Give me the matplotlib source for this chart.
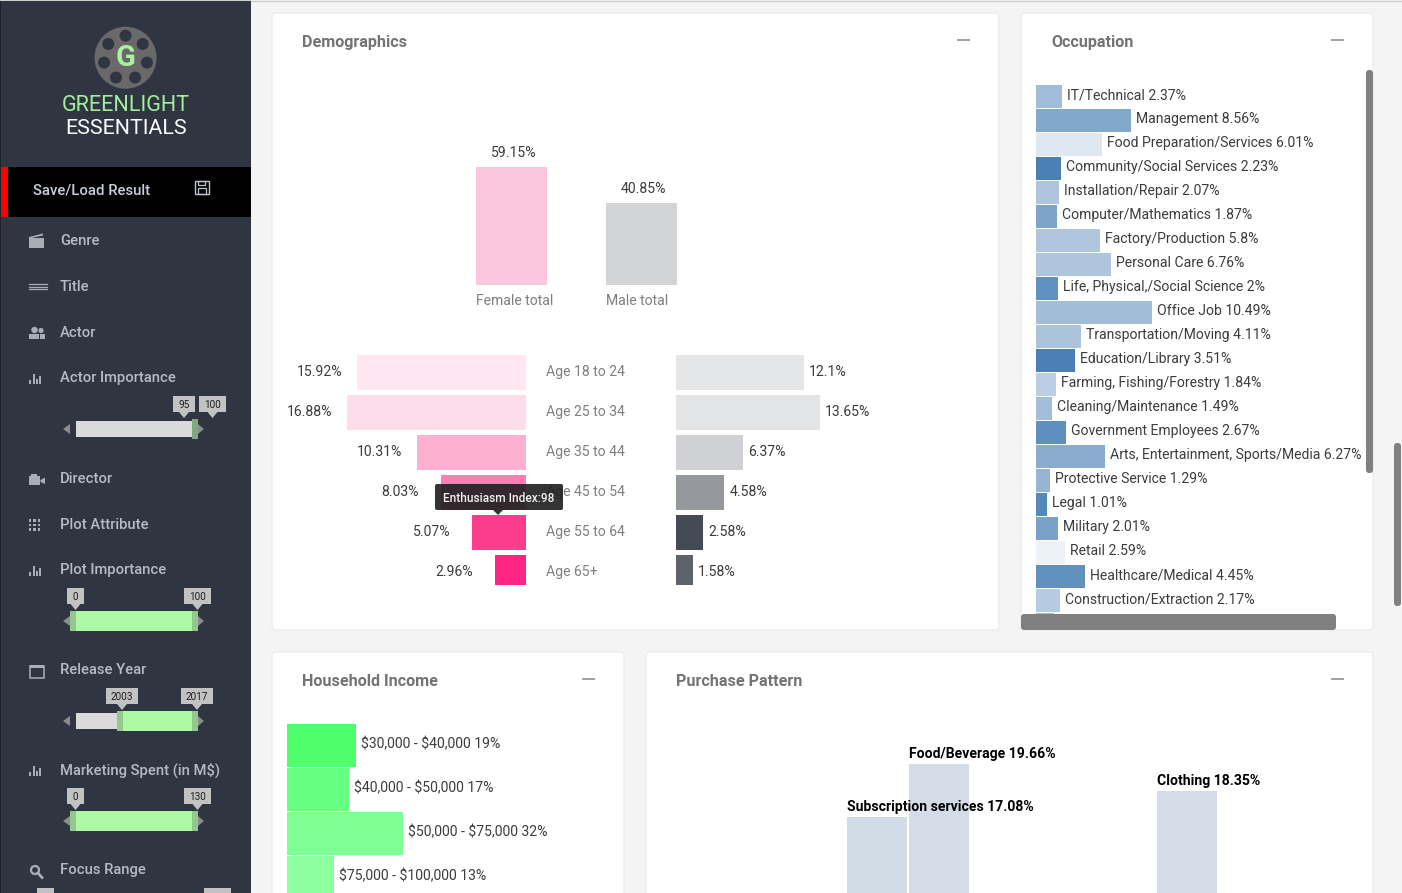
import numpy as np
import matplotlib
matplotlib.use("Agg")
import matplotlib.pyplot as plt
from matplotlib.patches import Rectangle, FancyBboxPatch, Circle, Polygon

plt.rcParams['font.family'] = ['Roboto', 'DejaVu Sans']

W, H = 1402, 893
PX = 0.72  # one pixel in points at dpi 100

# Demographics
total_labels = ["Female total", "Male total"]
total_values = [59.15, 40.85]
total_colors = ["#FCC6DE", "#D3D4D6"]
age_labels = ["Age 18 to 24", "Age 25 to 34", "Age 35 to 44", "Age 45 to 54", "Age 55 to 64", "Age 65+"]
female_values = [15.92, 16.88, 10.31, 8.03, 5.07, 2.96]
male_values = [12.1, 13.65, 6.37, 4.58, 2.58, 1.58]
female_colors = ["#FFE6F0", "#FEDDEB", "#FEB0D3", "#FE7DB5", "#FE3C8E", "#FE2585"]
male_colors = ["#E5E6E8", "#E3E4E6", "#CFD1D4", "#95989D", "#454B55", "#5D626B"]

# Occupation
occ_labels = ["IT/Technical 2.37%", "Management 8.56%", "Food Preparation/Services 6.01%",
              "Community/Social Services 2.23%", "Installation/Repair 2.07%",
              "Computer/Mathematics 1.87%", "Factory/Production 5.8%", "Personal Care 6.76%",
              "Life, Physical,/Social Science 2%", "Office Job 10.49%",
              "Transportation/Moving 4.11%", "Education/Library 3.51%",
              "Farming, Fishing/Forestry 1.84%", "Cleaning/Maintenance 1.49%",
              "Government Employees 2.67%", "Arts, Entertainment, Sports/Media 6.27%",
              "Protective Service 1.29%", "Legal 1.01%", "Military 2.01%", "Retail 2.59%",
              "Healthcare/Medical 4.45%", "Construction/Extraction 2.17%", ""]
occ_values = [2.37, 8.56, 6.01, 2.23, 2.07, 1.87, 5.8, 6.76, 2.0, 10.49, 4.11, 3.51,
              1.84, 1.49, 2.67, 6.27, 1.29, 1.01, 2.01, 2.59, 4.45, 2.17, 1.6]
occ_colors = ["#A0BCD8", "#82A8CC", "#DFE8F1", "#4B80B4", "#AFC5DD", "#7FA4CA", "#B0C6DE",
              "#AEC5DD", "#6090BF", "#A1BDD8", "#ABC4DC", "#4A80B5", "#BACFE3", "#A3BEDA",
              "#5F8FBF", "#89ABCE", "#97B5D3", "#5587BB", "#7BA1C8", "#EDF2F8", "#6190BF",
              "#B4CBE1", "#9FBAD6"]

# Household income
income_labels = [r"\$30,000 - \$40,000 19%", r"\$40,000 - \$50,000 17%",
                 r"\$50,000 - \$75,000 32%", r"\$75,000 - \$100,000 13%"]
income_values = [19, 17, 32, 13]
income_colors = ["#4DFF6B", "#66FF7F", "#80FF95", "#8CFF9F"]

# Purchase pattern (slots 2-4 hold bars too short to show above the fold)
purchase_labels = ["Subscription services 17.08%", "Food/Beverage 19.66%", "Clothing 18.35%"]
purchase_values = [17.08, 19.66, 18.35]
purchase_slots = [0, 1, 5]
purchase_colors = ["#D2DCE6", "#D3DCE7", "#D4DCE7"]

# Sidebar
menu_labels = ["Genre", "Title", "Actor", "Actor Importance", "Director", "Plot Attribute",
               "Plot Importance", "Release Year", r"Marketing Spent (in M\$)", "Focus Range"]
menu_y = [240, 286, 332, 377, 478, 524, 569, 669, 769, 869]

fig = plt.figure(figsize=(W / 100, H / 100), dpi=100, facecolor="#F4F4F4")


def ax_px(x0, y0, x1, y1, zorder=1):
    ax = fig.add_axes([x0 / W, 1 - y1 / H, (x1 - x0) / W, (y1 - y0) / H], zorder=zorder)
    ax.axis("off")
    return ax


def label(ax, x, y, s, dx=0, dy=0, color="#3C3C3C", size=10.1, ha="left", weight="normal"):
    # offsets are in pixels, y pointing down
    ax.annotate(s, (x, y), xytext=(dx * PX, -dy * PX), textcoords="offset points", ha=ha, va="center",
                color=color, fontsize=size, fontweight=weight, annotation_clip=False, clip_on=False)


# page chrome
bg = ax_px(0, 0, W, H, zorder=0)
bg.set_xlim(0, W)
bg.set_ylim(H, 0)


def card(x0, y0, x1, y1, title, minus_x):
    bg.add_patch(FancyBboxPatch((x0 + 3, y0 + 3), x1 - x0 - 6, y1 - y0 - 6, boxstyle="round,pad=3,rounding_size=4",
                                fc="white", ec="#ECECEC", lw=1))
    bg.text(x0 + 30, y0 + 29.5, title, color="#737373", fontsize=11.6, fontweight="bold", va="center")
    bg.plot([minus_x, minus_x + 11], [y0 + 27, y0 + 27], color="#A0A0A0", lw=1.4)


card(272, 13, 999, 630, "Demographics", 958)
card(1021, 13, 1373, 630, "Occupation", 1332)
card(272, 652, 624, 910, "Household Income", 583)
card(646, 652, 1373, 910, "Purchase Pattern", 1332)
bg.plot([251, W], [0.5, 0.5], color="#CFCFCF", lw=1)

# demographics totals
ax = ax_px(476, 100, 677, 285)
ax.set_xlim(-0.273, 1.273)
ax.set_ylim(0, 92.5)
ax.bar(range(2), total_values, width=0.546, color=total_colors)
for i, v in enumerate(total_values):
    label(ax, i, v, f"{v}%", dy=-14, dx=2, ha="center")
    label(ax, i, 0, total_labels[i], dx=-35.5, dy=16, color="#7E7E7E")

# age funnel
ax = ax_px(287, 355, 526, 585)
ax.set_xlim(239 / 10.6, 0)
ax.set_ylim(5.3125, -0.4375)
ax.barh(range(6), female_values, height=0.875, color=female_colors)
for i, v in enumerate(female_values):
    # the label box has a fixed width, so shorter numbers end further from the bar
    label(ax, v, i, f"{v}%", dx=-15 if v >= 10 else -22, dy=-0.5, ha="right")

ax = ax_px(676, 355, 900, 585)
ax.set_xlim(0, 224 / 10.55)
ax.set_ylim(5.3125, -0.4375)
ax.barh(range(6), male_values, height=0.875, color=male_colors)
for i, v in enumerate(male_values):
    label(ax, v, i, f"{v}%", dx=5, dy=-0.5)
    label(ax, 0, i, age_labels[i], dx=-130.5, dy=-0.5, color="#7E7E7E")

# occupation
ax = ax_px(1036, 84.5, 1366, 630)
ax.set_xlim(0, 330 / 11.06)
ax.set_ylim((630 - 84.5) / 24 - 0.5, -0.5)
ax.barh(range(len(occ_values)), occ_values, height=23 / 24, color=occ_colors)
for i, v in enumerate(occ_values):
    if occ_labels[i]:
        label(ax, v, i, occ_labels[i], dx=5, dy=-1.5)

# household income
ax = ax_px(287, 723.5, 620, 893)
ax.set_xlim(0, 333 / 3.63)
ax.set_ylim((893 - 723.5) / 44 - 0.5, -0.5)
ax.barh(range(4), income_values, height=43 / 44, color=income_colors)
for i, v in enumerate(income_values):
    label(ax, v, i, income_labels[i], dx=5, dy=-1.5)

# purchase pattern
ax = ax_px(847, 700, 1217, 893)
ax.set_xlim(-30 / 62, 340 / 62)
ax.set_ylim(19.66 - 129 / 20.54, 19.66 + 64 / 20.54)
ax.bar(purchase_slots, purchase_values, width=60 / 62, color=purchase_colors)
for s, v, t in zip(purchase_slots, purchase_values, purchase_labels):
    label(ax, s, v, t, dx=-30, dy=-10, color="black", weight="bold")

# sidebar
side = ax_px(0, 0, 251, H, zorder=3)
side.set_xlim(0, 251)
side.set_ylim(H, 0)
side.add_patch(Rectangle((0, 0), 251, H, fc="#2F3541", ec="none"))
side.add_patch(Rectangle((0, 0), 1, H, fc="#1E2228", ec="none"))
side.add_patch(Rectangle((0, 0), 251, 1, fc="#CFCFCF", ec="none"))
side.add_patch(Rectangle((1, 167), 250, 50, fc="black", ec="none"))
side.add_patch(Rectangle((1, 167), 7, 50, fc="#FF0000", ec="none"))

# logo
side.add_patch(Circle((125.5, 57.7), 31, fc="#696969", ec="none"))
for a in np.linspace(0, 2 * np.pi, 7, endpoint=False) - np.pi / 2:
    side.add_patch(Circle((125.5 + 22 * np.cos(a), 57.7 + 22 * np.sin(a)), 6, fc="#2F3541", ec="none"))
side.text(125.5, 57.5, "G", color="#A9F0A0", fontsize=21, fontweight="bold", ha="center", va="center")
side.text(125.5, 105.5, "GREENLIGHT", color="#A5EE9C", fontsize=15.6, ha="center", va="center")
side.text(126, 128.5, "ESSENTIALS", color="white", fontsize=15.4, ha="center", va="center")

side.text(33, 190.5, "Save/Load Result", color="#C8CED8", fontsize=10.7, fontweight="medium", va="center")
side.add_patch(Rectangle((195.5, 181), 14, 12.5, fc="none", ec="#BFC4CC", lw=1))
side.add_patch(Rectangle((198.5, 181), 7, 4, fc="none", ec="#BFC4CC", lw=0.9))
side.add_patch(Rectangle((198.5, 188), 8, 5.5, fc="none", ec="#BFC4CC", lw=0.9))

for t, y in zip(menu_labels, menu_y):
    side.text(60, y + 1, t, color="#B6BBC3", fontsize=10.6, fontweight="medium", va="center")

ICON = "#A9AEB6"


def icon_bars(y):
    for i, h in enumerate([4, 10, 5, 8]):
        side.add_patch(Rectangle((29.5 + i * 3.2, y + 6 - h), 2, h, fc=ICON, ec="none"))


# genre
side.add_patch(Rectangle((29, 238), 15, 10, fc=ICON, ec="none"))
side.add_patch(Polygon([(29, 237), (43, 233.5), (43, 235.5), (29, 238.5)], fc=ICON, ec="none"))
# title
for y in [284, 286.7, 289.4]:
    side.plot([29, 47], [y, y], color=ICON, lw=0.9)
# actor
for cx, cy, r in [(41, 330.5, 2.6), (34.5, 330, 3.2)]:
    side.add_patch(Circle((cx, cy), r, fc=ICON, ec="none"))
side.add_patch(Rectangle((29, 334), 10, 5, fc=ICON, ec="none"))
side.add_patch(Rectangle((40, 334), 5, 5, fc=ICON, ec="none"))
# bar icons
for y in [378, 570, 770]:
    icon_bars(y)
# director
side.add_patch(Rectangle((29, 476), 11.5, 9, fc=ICON, ec="none"))
side.add_patch(Polygon([(40.5, 480), (45, 477.5), (45, 484), (40.5, 482)], fc=ICON, ec="none"))
side.add_patch(Rectangle((31, 473.5), 6, 2, fc=ICON, ec="none"))
# plot attribute dots
for xx in [30, 34.5, 39]:
    for yy in [520.5, 525, 529.5]:
        side.add_patch(Rectangle((xx - 1.2, yy - 1.2), 2.4, 2.4, fc=ICON, ec="none"))
# calendar
side.add_patch(Rectangle((30, 666), 14, 12, fc="none", ec=ICON, lw=1.1))
side.add_patch(Rectangle((30, 665), 14, 3, fc=ICON, ec="none"))
# search
side.add_patch(Circle((35, 870), 4, fc="none", ec=ICON, lw=1.6))
side.plot([38, 42], [873, 877.5], color=ICON, lw=2)

GREEN = "#ADF8A5"
HANDLE = "#94C78E"
TRACK = "#DADADA"
TAG = "#C2C2C2"


def tag(x0, x1, y, s):
    side.add_patch(Rectangle((x0, y), x1 - x0, 16, fc=TAG, ec="none"))
    cx = (x0 + x1) / 2
    side.add_patch(Polygon([(cx - 5, y + 16), (cx + 5, y + 16), (cx, y + 22)], fc=TAG, ec="none"))
    side.text(cx, y + 9, s, color="#1E1E1E", fontsize=7.2, ha="center", va="center")


def slider(y, left, right):
    # y is the centre of the track, left/right the handle edges
    side.add_patch(Rectangle((76, y - 8), 118, 16, fc=TRACK, ec="none"))
    side.add_patch(Polygon([(70, y - 5), (70, y + 5), (63, y)], fc="#8C8C8C", ec="none"))
    side.add_patch(Polygon([(198, y - 5), (198, y + 5), (204, y)], fc="#8C8C8C", ec="none"))
    side.add_patch(Rectangle((left, y - 10), 198 - left, 20, fc=GREEN, ec="none"))
    side.add_patch(Rectangle((left, y - 10), 6, 20, fc=HANDLE, ec="none"))
    side.add_patch(Rectangle((192, y - 10), 6, 20, fc=HANDLE, ec="none"))


# actor importance: empty range at the right end
side.add_patch(Rectangle((76, 421), 118, 16, fc=TRACK, ec="none"))
side.add_patch(Polygon([(70, 424), (70, 434), (63, 429)], fc="#8C8C8C", ec="none"))
side.add_patch(Polygon([(198, 424), (198, 434), (204, 429)], fc="#8C8C8C", ec="none"))
side.add_patch(Rectangle((192, 419), 6, 20, fc="#7FA97F", ec="none"))
tag(173, 195, 396, "95")
tag(199, 226, 396, "100")

slider(621, 70, 198)
tag(67, 84, 588, "0")
tag(184, 211, 588, "100")
slider(721, 117, 198)
tag(106, 138, 688, "2003")
tag(181, 213, 688, "2017")
slider(821, 70, 198)
tag(67, 84, 788, "0")
tag(184, 211, 788, "130")
side.add_patch(Rectangle((37, 888), 17, 5, fc=TAG, ec="none"))
side.add_patch(Rectangle((204, 888), 27, 5, fc=TAG, ec="none"))

# overlay: tooltip and scrollbars
top = ax_px(0, 0, W, H, zorder=5)
top.set_xlim(0, W)
top.set_ylim(H, 0)
top.patch.set_alpha(0)
top.add_patch(FancyBboxPatch((437, 486), 124, 22, boxstyle="round,pad=2,rounding_size=2", fc="#1E1E1E", ec="none", alpha=0.9))
top.add_patch(Polygon([(493, 510), (503, 510), (498, 515)], fc="#1E1E1E", ec="none", alpha=0.9))
top.text(499, 498, "Enthusiasm Index:98", color="#F2F2F2", fontsize=8.6, fontweight="medium", ha="center", va="center")
for x0, y0, x1, y1 in [(1366, 70, 1373, 473), (1021, 614, 1336, 630), (1394, 443, 1401, 606)]:
    r = 3
    top.add_patch(FancyBboxPatch((x0 + r, y0 + r), x1 - x0 - 2 * r, y1 - y0 - 2 * r,
                                 boxstyle=f"round,pad={r},rounding_size={r}", fc="#808080", ec="none"))

fig.savefig("out.png", dpi=100, facecolor=fig.get_facecolor())
